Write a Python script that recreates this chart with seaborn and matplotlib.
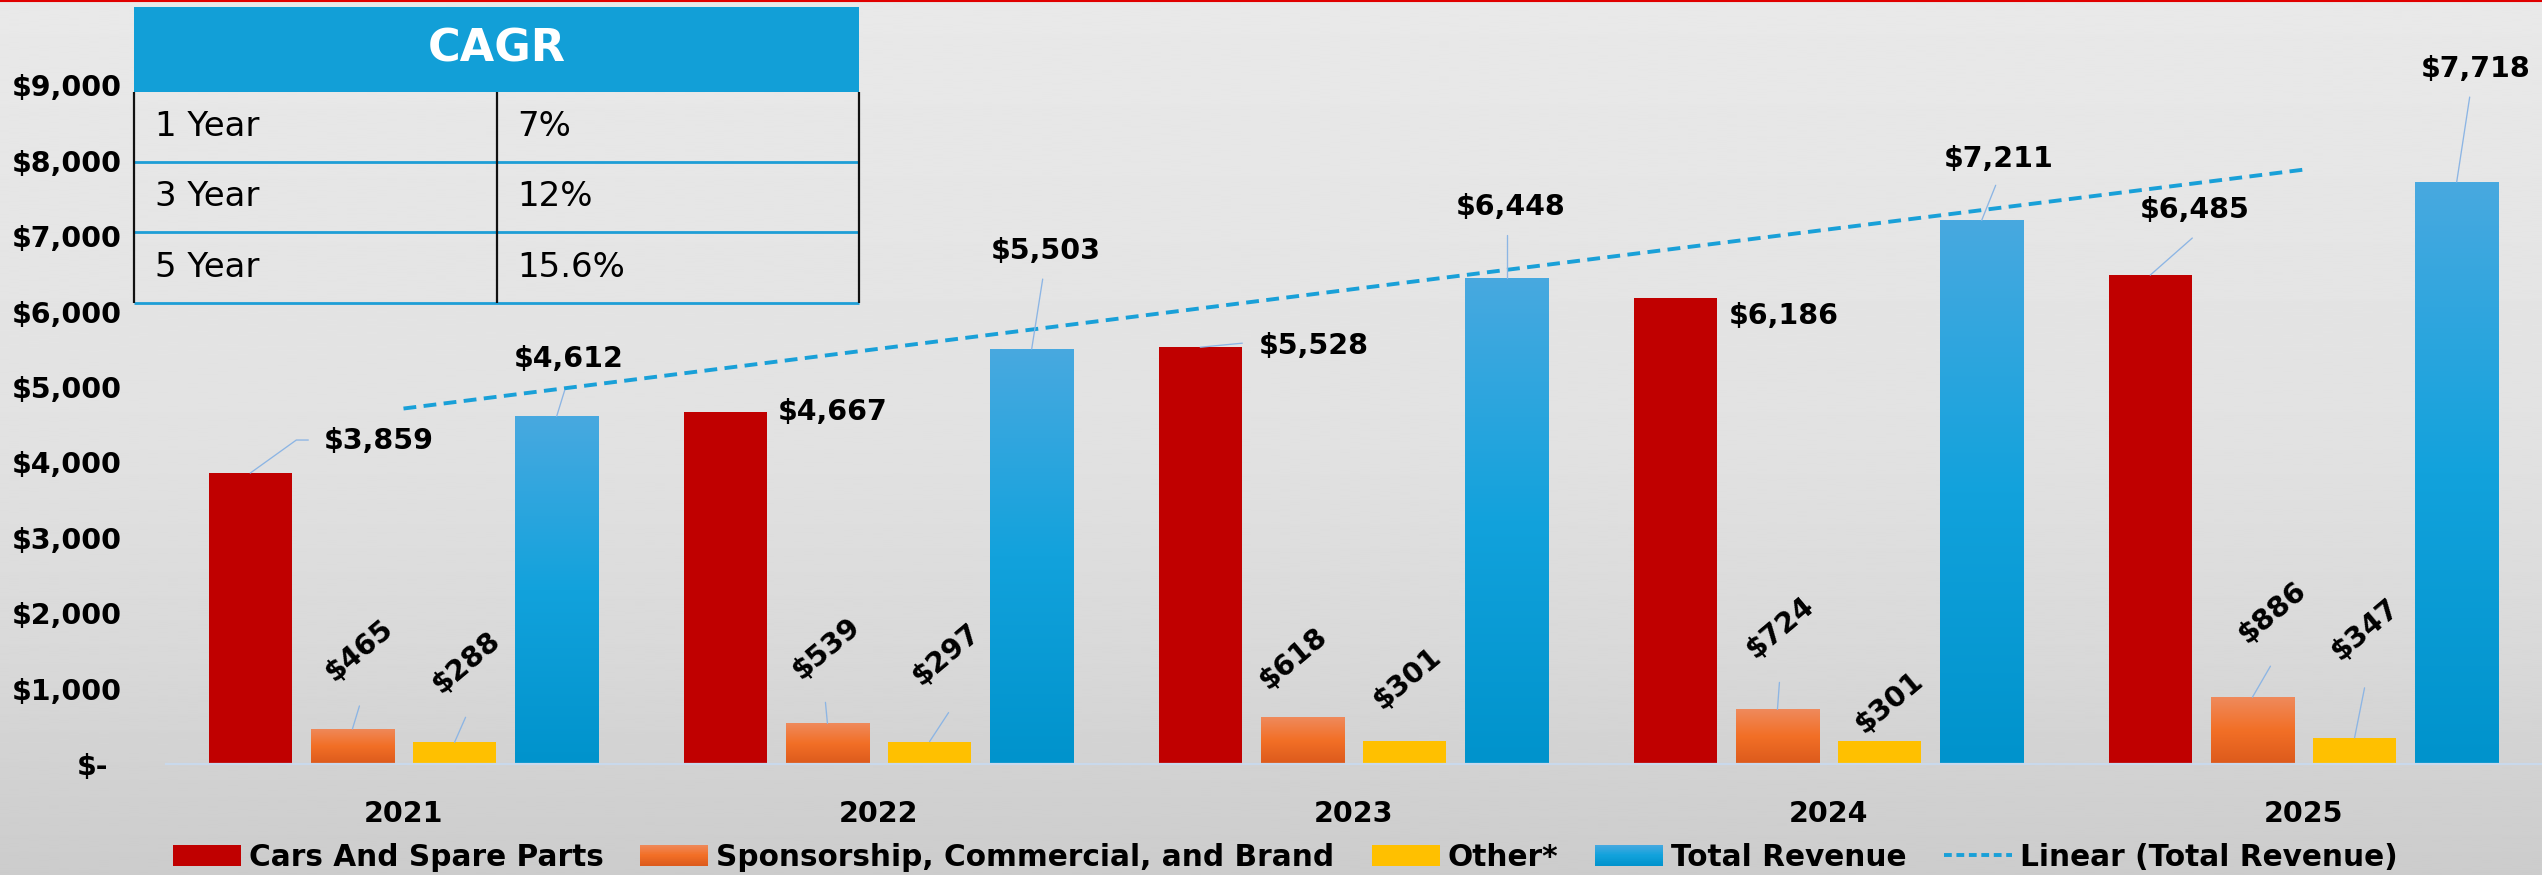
import numpy as np
import pandas as pd
import matplotlib
matplotlib.use("Agg")
import matplotlib.pyplot as plt
import seaborn as sns
from matplotlib.lines import Line2D
from matplotlib.patches import Rectangle
from matplotlib.legend_handler import HandlerBase
from matplotlib.transforms import ScaledTranslation
from matplotlib.colors import LinearSegmentedColormap

# ---------------------------------------------------------------- data
years = ["2021", "2022", "2023", "2024", "2025"]
cars_parts = [3859, 4667, 5528, 6186, 6485]
sponsorship = [465, 539, 618, 724, 886]
other = [288, 297, 301, 301, 347]
total_revenue = [4612, 5503, 6448, 7211, 7718]
segments = ["Cars And Spare Parts", "Sponsorship, Commercial, and Brand",
            "Other*", "Total Revenue"]
trend_label = "Linear (Total Revenue)"
cagr_periods = ["1 Year", "3 Year", "5 Year"]
cagr_values = ["7%", "12%", "15.6%"]
y_tick_values = [0, 1000, 2000, 3000, 4000, 5000, 6000, 7000, 8000, 9000]

# ---------------------------------------------------------------- style
W, H, DPI = 2542, 875, 100
RED = "#C00000"
YELLOW = "#FFC000"
ORANGE_STOPS = ["#DC5A1C", "#F26F26", "#EF8A5C"]      # bottom -> top
BLUE_STOPS = ["#0093CC", "#12A2DC", "#48A9E0"]        # bottom -> top
TREND = "#19A0D8"
LEADER = "#8CB5E4"
FS = 20.5
LEGEND_FS = 21.3

orange_cmap = LinearSegmentedColormap.from_list("orange_fill", ORANGE_STOPS)
blue_cmap = LinearSegmentedColormap.from_list("blue_fill", BLUE_STOPS)

# label placement: text offset (px) from the bar top, optional leader path (px)
label_layout = {
    "Cars And Spare Parts": [
        ((128, 32), [(0, 0), (46, 33), (58, 33)]),
        ((107, 0), None),
        ((113, 1), [(0, 0), (42, 4)]),
        ((108, -18), None),
        ((44, 65), [(0, 0), (42, 37)]),
    ],
    "Sponsorship, Commercial, and Brand": [
        ((7, 79), [(0, 0), (7, 23)]),
        ((-1, 75), [(0, 0), (-2, 21)]),
        ((-9, 59), None),
        ((3, 82), [(0, 0), (2, 27)]),
        ((20, 85), [(0, 0), (18, 31)]),
    ],
    "Other*": [
        ((12, 80), [(0, 0), (11, 25)]),
        ((17, 87), [(0, 0), (19, 29)]),
        ((3, 63), None),
        ((10, 39), None),
        ((11, 108), [(0, 0), (10, 50)]),
    ],
    "Total Revenue": [
        ((12, 57), [(0, 0), (8, 26)]),
        ((14, 98), [(0, 0), (11, 70)]),
        ((4, 71), [(0, 0), (0, 43)]),
        ((17, 61), [(0, 0), (14, 35)]),
        ((19, 113), [(0, 0), (13, 85)]),
    ],
}
rotated = {"Sponsorship, Commercial, and Brand", "Other*"}


def money(v):
    return "$-" if v == 0 else f"${v:,.0f}"


df = pd.DataFrame({
    "year": years * 4,
    "segment": np.repeat(segments, len(years)),
    "value": cars_parts + sponsorship + other + total_revenue,
})

sns.set_theme(style="white")
plt.rcParams["font.family"] = ["DejaVu Sans"]
plt.rcParams["text.color"] = "black"

fig = plt.figure(figsize=(W / DPI, H / DPI), dpi=DPI)

# background: soft vertical grey gradient (lighter towards the top)
bg = fig.add_axes([0, 0, 1, 1], zorder=0)
stops_pos = np.array([0.0, 0.13, 0.25, 0.5, 0.75, 1.0])
stops_val = np.array([0.80, 0.825, 0.85, 0.885, 0.90, 0.912])
yy = np.linspace(0, 1, 400)
grad = np.interp(yy, stops_pos, stops_val)[:, None]
bg.imshow(grad, extent=(0, 1, 0, 1), origin="lower", aspect="auto",
          cmap="gray", vmin=0, vmax=1, interpolation="bilinear")
bg.set_axis_off()

# main chart
ax_left, ax_right, ax_bottom_px, ax_top_px = 166, 2541, 764, 10
ax = fig.add_axes([ax_left / W, (H - ax_bottom_px) / H,
                   (ax_right - ax_left) / W, (ax_bottom_px - ax_top_px) / H],
                  zorder=1)
ax.patch.set_alpha(0)

palette = {segments[0]: RED, segments[1]: ORANGE_STOPS[1],
           segments[2]: YELLOW, segments[3]: BLUE_STOPS[1]}
sns.barplot(data=df, x="year", y="value", hue="segment", hue_order=segments,
            palette=palette, width=0.86, gap=0.186, saturation=1,
            linewidth=0, legend=False, ax=ax, errorbar=None)

# gradient fills for the orange and blue series
for seg, cmap in [(segments[1], orange_cmap), (segments[3], blue_cmap)]:
    cont = ax.containers[segments.index(seg)]
    for bar in cont:
        x0, w, h = bar.get_x(), bar.get_width(), bar.get_height()
        im = ax.imshow(np.linspace(0, 1, 256)[:, None], cmap=cmap,
                       extent=(x0, x0 + w, 0, h), origin="lower",
                       aspect="auto", interpolation="bilinear", zorder=2.1)
        im.set_clip_path(bar)

# linear trend of total revenue
sns.regplot(x=np.arange(len(years)), y=np.array(total_revenue, float),
            scatter=False, ci=None, truncate=True, ax=ax,
            line_kws=dict(color=TREND, lw=2.8, dashes=(3.3, 1.9),
                          solid_capstyle="butt", zorder=3))

ax.set_xlim(-0.5, len(years) - 0.5)
ax.set_ylim(0, 10000)
ax.set_xlabel("")
ax.set_ylabel("")
for s in ["top", "right", "left"]:
    ax.spines[s].set_visible(False)
ax.spines["bottom"].set_color("#C9D9EC")
ax.spines["bottom"].set_linewidth(1.6)
ax.spines["bottom"].set_zorder(4)
ax.grid(False)

ax.set_xticks(range(len(years)))
ax.set_xticklabels(years, fontsize=FS, fontweight="bold", color="black")
ax.set_yticks(y_tick_values)
ax.set_yticklabels([money(v) if v else "" for v in y_tick_values],
                   fontsize=FS, fontweight="bold", color="black")
ax.tick_params(axis="y", length=0, pad=31.7)
ax.tick_params(axis="x", length=0, pad=26)
ax.annotate("$-", xy=(0, 0), xycoords=("axes fraction", "data"),
            xytext=(-58, 0), textcoords="offset pixels", ha="right",
            va="center_baseline", fontsize=FS, fontweight="bold",
            color="black")

# data labels with leader lines
for seg in segments:
    cont = ax.containers[segments.index(seg)]
    for bar, (off, path) in zip(cont, label_layout[seg]):
        bx = bar.get_x() + bar.get_width() / 2
        by = bar.get_height()
        rot = 40 if seg in rotated else 0
        ax.annotate(money(by), xy=(bx, by), xytext=off,
                    textcoords="offset pixels", ha="center", va="center",
                    rotation=rot, rotation_mode="anchor",
                    fontsize=FS, fontweight="bold", color="black", zorder=6)
        if path:
            px, py = zip(*path)
            ax.add_line(Line2D(px, py, color=LEADER, lw=0.95,
                               transform=ScaledTranslation(bx, by, ax.transData),
                               clip_on=False, zorder=5))


# legend
class GradientHandler(HandlerBase):
    def __init__(self, cmap, n=30):
        super().__init__()
        self.cmap, self.n = cmap, n

    def create_artists(self, legend, orig_handle, xdescent, ydescent,
                       width, height, fontsize, trans):
        arts = []
        for i in range(self.n):
            arts.append(Rectangle((-xdescent, -ydescent + height * i / self.n),
                                  width, height / self.n * 1.05,
                                  facecolor=self.cmap((i + 0.5) / self.n),
                                  edgecolor="none", transform=trans))
        return arts


h_red = Rectangle((0, 0), 1, 1, facecolor=RED, edgecolor="none")
h_orange = Rectangle((0, 0), 1, 1, facecolor=ORANGE_STOPS[1])
h_yellow = Rectangle((0, 0), 1, 1, facecolor=YELLOW, edgecolor="none")
h_blue = Rectangle((0, 0), 1, 1, facecolor=BLUE_STOPS[1])
h_trend = Line2D([], [], color=TREND, lw=2.8, dashes=(2.0, 1.2))
em_px = LEGEND_FS * DPI / 72
fig.legend([h_red, h_orange, h_yellow, h_blue, h_trend],
           segments + [trend_label],
           handler_map={h_orange: GradientHandler(orange_cmap),
                        h_blue: GradientHandler(blue_cmap)},
           loc="center", bbox_to_anchor=(1285 / W, 1 - 857 / H), ncol=5,
           frameon=False, prop=dict(size=LEGEND_FS, weight="bold"),
           labelcolor="black",
           handlelength=68 / em_px, handleheight=21 / em_px,
           handletextpad=8 / em_px, columnspacing=37 / em_px,
           borderpad=0, borderaxespad=0)

# CAGR table and top accent line
top = fig.add_axes([0, 0, 1, 1], zorder=3)
top.set_xlim(0, W)
top.set_ylim(H, 0)
top.set_axis_off()
top.patch.set_alpha(0)

tx0, tx1, tmid = 134, 859, 497
head_top, head_bot = 7, 92
row_lines = [162, 232, 303]
top.add_patch(Rectangle((tx0, head_top), tx1 - tx0, head_bot - head_top,
                        facecolor="#129FD7", edgecolor="none"))
top.text((tx0 + tx1) / 2, (head_top + head_bot) / 2, "CAGR", color="white",
         fontsize=32, fontweight="bold", ha="center", va="center")
for yl in row_lines:
    top.plot([tx0, tx1], [yl, yl], color="#1E9ED6", lw=2.0,
             solid_capstyle="butt")
for xv in [tx0, tmid, tx1]:
    top.plot([xv, xv], [head_bot, row_lines[-1]], color="#111111", lw=1.6,
             solid_capstyle="butt")
row_edges = [head_bot] + row_lines
for i, (per, val) in enumerate(zip(cagr_periods, cagr_values)):
    yc = (row_edges[i] + row_edges[i + 1]) / 2
    top.text(155, yc, per, fontsize=24.5, ha="left", va="center",
             color="black")
    top.text(517, yc, val, fontsize=24.5, ha="left", va="center",
             color="black")

top.plot([0, W], [0.8, 0.8], color="#E00000", lw=1.5, solid_capstyle="butt")

fig.savefig("out.png", dpi=DPI)
